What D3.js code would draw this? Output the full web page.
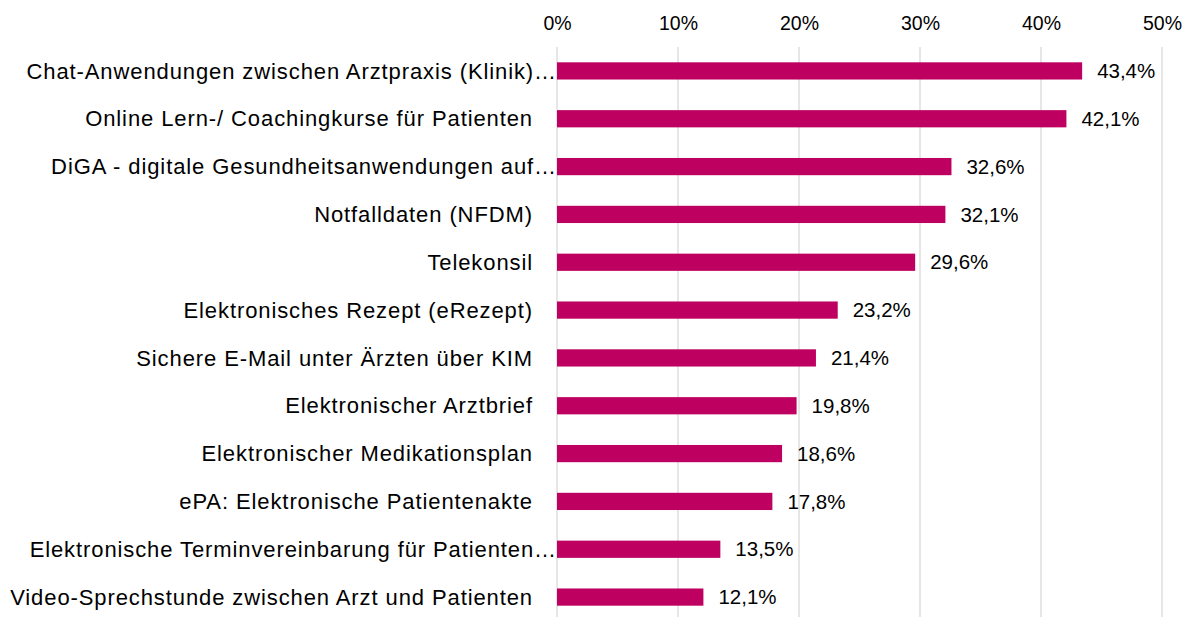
<!DOCTYPE html>
<html>
<head>
  <meta charset="UTF-8">
  <title></title>
  <style>
    body{ margin:0; background:#fff; font-family: "Liberation Sans", Arial, sans-serif; }
    .grid line{ stroke:#d9d9d9; stroke-width:1.3; }
    .tick text{ font-size:19.5px; fill:#000; }
    .cat{ font-size:22px; fill:#000; letter-spacing:0.9px; }
    .val{ font-size:20.5px; fill:#000; }
  </style>
</head>
<body>
  <script src="https://d3js.org/d3.v7.min.js"></script>
  <script>
    var categories = [
      "Chat-Anwendungen zwischen Arztpraxis (Klinik)…",
      "Online Lern-/ Coachingkurse für Patienten",
      "DiGA - digitale Gesundheitsanwendungen auf…",
      "Notfalldaten (NFDM)",
      "Telekonsil",
      "Elektronisches Rezept (eRezept)",
      "Sichere E-Mail unter Ärzten über KIM",
      "Elektronischer Arztbrief",
      "Elektronischer Medikationsplan",
      "ePA: Elektronische Patientenakte",
      "Elektronische Terminvereinbarung für Patienten…",
      "Video-Sprechstunde zwischen Arzt und Patienten"
    ];
    var values = [43.4, 42.1, 32.6, 32.1, 29.6, 23.2, 21.4, 19.8, 18.6, 17.8, 13.5, 12.1];
    var ticks = [0, 10, 20, 30, 40, 50];

    var width = 1186, height = 617;
    var margin = {top: 47, left: 557, right: 24, bottom: 0};

    var svg = d3.select("body").append("svg")
        .attr("width", width)
        .attr("height", height);

    var x = d3.scaleLinear().domain([0, 50]).range([margin.left, width - margin.right]);
    var y = d3.scaleBand().domain(categories)
        .range([margin.top, height - margin.bottom + 4])
        .paddingInner(0.64).paddingOuter(0.32);

    // grid
    svg.append("g").attr("class", "grid")
      .selectAll("line").data(ticks)
      .enter().append("line")
        .attr("x1", function(d) { return x(d); })
        .attr("x2", function(d) { return x(d); })
        .attr("y1", margin.top)
        .attr("y2", height);

    // top axis labels
    svg.append("g")
        .attr("transform", "translate(0,30)")
        .call(d3.axisTop(x).tickValues(ticks).tickSize(0).tickPadding(0).tickFormat(function(d) { return d + "%"; }))
        .call(function(g) { g.select(".domain").remove(); })
        .selectAll("text").attr("font-family", null).attr("font-size", null);

    svg.append("g").selectAll("rect").data(values)
      .enter().append("rect")
        .attr("x", x(0))
        .attr("y", function(d, i) { return y(categories[i]); })
        .attr("width", function(d) { return x(d) - x(0); })
        .attr("height", y.bandwidth())
        .attr("fill", "#be0060");

    svg.append("g").selectAll("text").data(categories)
      .enter().append("text")
        .attr("class", "cat")
        .attr("text-anchor", "end")
        .attr("x", function(d) { return d.slice(-1) === "…" ? x(0) : x(0) - 24; })
        .attr("y", function(d) { return y(d) + y.bandwidth() / 2; })
        .attr("dy", "0.35em")
        .text(function(d) { return d; });

    svg.append("g").selectAll("text").data(values)
      .enter().append("text")
        .attr("class", "val")
        .attr("x", function(d) { return x(d) + 15; })
        .attr("y", function(d, i) { return y(categories[i]) + y.bandwidth() / 2; })
        .attr("dy", "0.35em")
        .text(function(d) { return d3.format(".1f")(d).replace(".", ",") + "%"; });
  </script>
</body>
</html>
